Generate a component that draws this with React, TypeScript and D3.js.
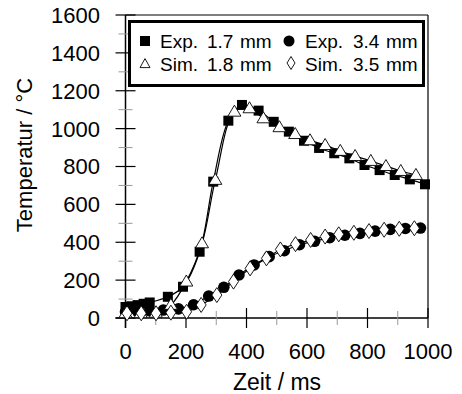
import React from 'react';
import * as d3 from 'd3';

// Exp. 1.7 mm (filled squares)
const timeExp17 = [0, 20, 40, 60, 80, 140, 190, 245, 290, 340, 385, 440, 490, 540, 590, 640, 690, 740, 790, 840, 890, 940, 990];
const tempExp17 = [58, 62, 68, 75, 82, 112, 165, 350, 720, 1042, 1125, 1095, 1036, 984, 936, 898, 870, 843, 808, 781, 755, 732, 706];

// Sim. 1.8 mm (open triangles)
const timeSim18 = [0, 50, 100, 150, 201, 253, 297, 360, 410, 456, 509, 561, 610, 660, 710, 759, 811, 861, 910, 960];
const tempSim18 = [25, 25, 27, 69, 192, 394, 729, 1089, 1107, 1054, 1007, 971, 938, 913, 882, 855, 829, 802, 776, 755];

// Exp. 3.4 mm (filled circles)
const timeExp34 = [0, 40, 80, 125, 175, 225, 275, 325, 375, 425, 475, 525, 575, 625, 675, 725, 775, 825, 875, 925, 975];
const tempExp34 = [33, 35, 38, 42, 48, 70, 116, 162, 227, 280, 324, 355, 387, 405, 424, 437, 447, 459, 468, 473, 475];

// Sim. 3.5 mm (open diamonds)
const timeSim35 = [5, 52, 101, 150, 202, 250, 302, 357, 412, 466, 512, 562, 612, 660, 705, 755, 805, 855, 905, 955];
const tempSim35 = [25, 25, 25, 28, 33, 69, 121, 192, 262, 315, 362, 390, 412, 430, 442, 450, 459, 466, 471, 474];

const xTicks = [0, 200, 400, 600, 800, 1000];
const xMinorTicks = [100, 300, 500, 700, 900];
const yTicks = [0, 200, 400, 600, 800, 1000, 1200, 1400, 1600];
const yMinorTicks = [100, 300, 500, 700, 900, 1100, 1300, 1500];

const FONT = "'Liberation Sans', Arial, Helvetica, sans-serif";

const zip = (a: number[], b: number[]) => a.map((t, i) => [t, b[i]] as [number, number]);

export default function App() {
  const W = 462, H = 394;
  const x = d3.scaleLinear().domain([0, 1000]).range([125.5, 428]);
  const y = d3.scaleLinear().domain([0, 1600]).range([318, 15]);
  const line = d3.line<[number, number]>()
    .x(d => x(d[0]))
    .y(d => y(d[1]))
    .curve(d3.curveCatmullRom.alpha(0.5));

  const exp17 = zip(timeExp17, tempExp17);
  const sim18 = zip(timeSim18, tempSim18);
  const exp34 = zip(timeExp34, tempExp34);
  const sim35 = zip(timeSim35, tempSim35);

  const sq = (cx: number, cy: number, s: number) => `M${cx - s / 2},${cy - s / 2}h${s}v${s}h${-s}Z`;
  const tri = (cx: number, cy: number, w: number, h: number) =>
    `M${cx},${cy - h * 0.6}L${cx + w / 2},${cy + h * 0.4}L${cx - w / 2},${cy + h * 0.4}Z`;
  const dia = (cx: number, cy: number, w: number, h: number) =>
    `M${cx},${cy - h / 2}L${cx + w / 2},${cy}L${cx},${cy + h / 2}L${cx - w / 2},${cy}Z`;

  const x0 = x(0), x1 = x(1000), y0 = y(0), y1 = y(1600);

  return (
    <svg width={W} height={H} style={{ position: 'absolute', left: 0, top: 0, background: '#fff' }} fontFamily={FONT}>
      <rect x={0} y={0} width={W} height={H} fill="#fff" />
      {/* frame */}
      <line x1={x0} x2={x1} y1={y1} y2={y1} stroke="#000" strokeWidth={1.2} />
      <line x1={x1} x2={x1} y1={y1} y2={y0} stroke="#000" strokeWidth={1.2} />
      {/* axes */}
      <line x1={x0 - 10} x2={x1} y1={y0} y2={y0} stroke="#000" strokeWidth={1.5} />
      <line x1={x0} x2={x0} y1={y1} y2={y0 + 10} stroke="#000" strokeWidth={1.5} />
      {yTicks.map(t => (
        <line key={'yt' + t} x1={x0 - 10} x2={x0 + 10} y1={y(t)} y2={y(t)} stroke="#000" strokeWidth={1.2} />
      ))}
      {yMinorTicks.map(t => (
        <line key={'ym' + t} x1={x0 - 7} x2={x0 + 7} y1={y(t)} y2={y(t)} stroke="#999" strokeWidth={1} />
      ))}
      {xTicks.map(t => (
        <line key={'xt' + t} x1={x(t)} x2={x(t)} y1={y0 - 10} y2={y0 + 10} stroke="#000" strokeWidth={1.2} />
      ))}
      {xMinorTicks.map(t => (
        <line key={'xm' + t} x1={x(t)} x2={x(t)} y1={y0 - 7} y2={y0 + 7} stroke="#999" strokeWidth={1} />
      ))}
      {yTicks.map(t => (
        <text key={'yl' + t} x={100} y={y(t)} dy="0.36em" textAnchor="end" fontSize={22} fill="#000">{t}</text>
      ))}
      {xTicks.map(t => (
        <text key={'xl' + t} x={x(t)} y={359} textAnchor="middle" fontSize={22} fill="#000">{t}</text>
      ))}
      <text x={277} y={390} textAnchor="middle" fontSize={23} fill="#000">Zeit / ms</text>
      <text transform="translate(32,155) rotate(-90)" textAnchor="middle" fontSize={22} fill="#000">Temperatur / °C</text>

      {/* lines */}
      {[exp17, sim18, exp34, sim35].map((d, i) => (
        <path key={'ln' + i} d={line(d) || ''} fill="none" stroke="#000" strokeWidth={1.2} />
      ))}
      {/* markers */}
      {exp17.map((d, i) => <path key={'s' + i} d={sq(x(d[0]), y(d[1]), 10)} fill="#000" />)}
      {exp34.map((d, i) => <circle key={'c' + i} cx={x(d[0])} cy={y(d[1])} r={5.8} fill="#000" />)}
      {sim18.map((d, i) => <path key={'t' + i} d={tri(x(d[0]), y(d[1]), 13, 11)} fill="#fff" stroke="#000" strokeWidth={0.9} />)}
      {sim35.map((d, i) => <path key={'d' + i} d={dia(x(d[0]), y(d[1]), 10, 15)} fill="#fff" stroke="#000" strokeWidth={0.9} />)}

      {/* legend */}
      <rect x={129.5} y={21.5} width={294} height={64} fill="#fff" stroke="#000" strokeWidth={3} />
      <path d={sq(145, 41, 10)} fill="#000" />
      <text x={160} y={47.5} fontSize={19} fill="#000">Exp.</text>
      <text x={207} y={47.5} fontSize={19} fill="#000">1.7</text>
      <text x={240} y={47.5} fontSize={19} fill="#000">mm</text>
      <circle cx={289} cy={41} r={5.5} fill="#000" />
      <text x={305} y={47.5} fontSize={19} fill="#000">Exp.</text>
      <text x={353} y={47.5} fontSize={19} fill="#000">3.4</text>
      <text x={386} y={47.5} fontSize={19} fill="#000">mm</text>
      <path d={tri(145, 64, 10, 9)} fill="#fff" stroke="#000" strokeWidth={0.9} />
      <text x={160} y={71} fontSize={19} fill="#000">Sim.</text>
      <text x={207} y={71} fontSize={19} fill="#000">1.8</text>
      <text x={240} y={71} fontSize={19} fill="#000">mm</text>
      <path d={dia(291, 63, 8, 13)} fill="#fff" stroke="#000" strokeWidth={0.9} />
      <text x={305} y={71} fontSize={19} fill="#000">Sim.</text>
      <text x={353} y={71} fontSize={19} fill="#000">3.5</text>
      <text x={386} y={71} fontSize={19} fill="#000">mm</text>
    </svg>
  );
}
